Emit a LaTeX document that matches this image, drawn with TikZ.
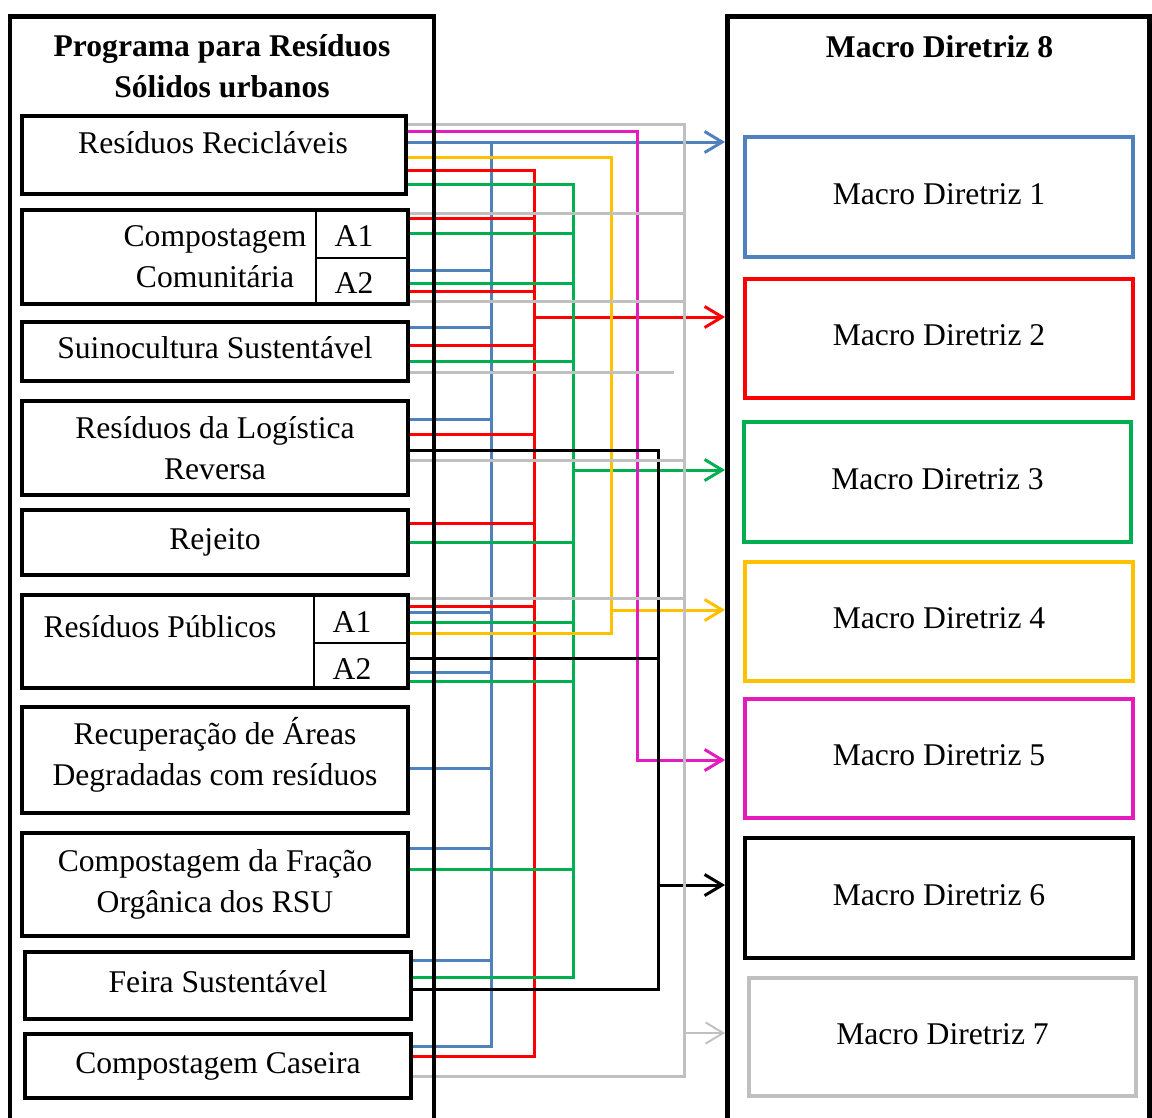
\documentclass[tikz,border=0pt]{standalone}
\usepackage{fontspec}
\setmainfont{Liberation Serif}
\usetikzlibrary{arrows.meta, fit, backgrounds}

\definecolor{mdblue}{RGB}{79,129,189}
\definecolor{mdred}{RGB}{255,0,0}
\definecolor{mdgreen}{RGB}{0,176,80}
\definecolor{mdyellow}{RGB}{255,192,0}
\definecolor{mdpink}{RGB}{228,28,188}
\definecolor{mdgray}{RGB}{192,192,192}

\newcommand{\mdsize}{\fontsize{18}{23.5}\selectfont}

\tikzset{
  outerframe/.style={draw, line width=2.8pt, inner sep=0pt},
  srcbox/.style={draw, line width=2.5pt, inner sep=0pt},
  mdbox/.style={draw=#1, line width=2.3pt, inner sep=0pt},
  txt/.style={inner sep=0pt, align=center},
  oneline/.style={txt, text height=12.6pt, text depth=4.5pt},
  lbl/.style={anchor=base, inner sep=0pt, align=center},
  ttl/.style={inner sep=0pt, align=center, font=\mdsize\bfseries},
  wire/.style={draw=#1, line width=1.7pt},
  arrowhd/.style={-{Straight Barb[length=10pt,width=12pt]}},
  cell/.style={line width=0.6pt},
}

\begin{document}
\begin{tikzpicture}[x=0.02cm, y=-0.02cm, font=\mdsize]
\useasboundingbox (0,0) rectangle (1152,1117);

% Outer frames (open at the bottom)
\begin{scope}
\clip (0,0) rectangle (1152,1117);
\node[outerframe, fit={(10,16.5) (434,1140)}] (prog) {};
\node[outerframe, fit={(727.5,16.5) (1149.5,1140)}] (md8) {};
\end{scope}
\node[ttl] (prog-t) at (222,66) {Programa para Resíduos\\Sólidos urbanos};
\node[ttl, anchor=base] (md8-t) at (939.5,57) {Macro Diretriz 8};

% Programme boxes
\node[srcbox, fit={(22,116) (406,194)}] (recic) {};
\node[lbl] (recic-t) at (213,153) {Resíduos Recicláveis};
\node[srcbox, fit={(22,210) (408,304)}] (comcom) {};
\node[txt] (comcom-t) at (comcom.center) {Compostagem\\Comunitária};
\draw[cell] (316,210) -- (316,304) (316,258) -- (408,258);
\node[lbl] (comcom-a1) at (354,246) {A1};
\node[lbl] (comcom-a2) at (354,293) {A2};
\node[srcbox, fit={(22,322) (408,381)}] (suino) {};
\node[oneline] (suino-t) at (suino.center) {Suinocultura Sustentável};
\node[srcbox, fit={(22,401) (408,495)}] (logist) {};
\node[txt] (logist-t) at (logist.center) {Resíduos da Logística\\Reversa};
\node[srcbox, fit={(22,510) (408,575)}] (rejeito) {};
\node[oneline] (rejeito-t) at (rejeito.center) {Rejeito};
\node[srcbox, fit={(22,595) (408,688)}] (public) {};
\node[lbl] (public-t) at (160,637) {Resíduos Públicos};
\draw[cell] (314,595) -- (314,688) (314,643) -- (408,643);
\node[lbl] (public-a1) at (352,632) {A1};
\node[lbl] (public-a2) at (352,679) {A2};
\node[srcbox, fit={(22,707) (408,813)}] (recup) {};
\node[txt, yshift=3pt] (recup-t) at (recup.center) {Recuperação de Áreas\\Degradadas com resíduos};
\node[srcbox, fit={(22,833) (408,936)}] (fracao) {};
\node[txt] (fracao-t) at (fracao.center) {Compostagem da Fração\\Orgânica dos RSU};
\node[srcbox, fit={(25,952) (411,1019)}] (feira) {};
\node[oneline] (feira-t) at (feira.center) {Feira Sustentável};
\node[srcbox, fit={(25,1034) (411,1098)}] (caseira) {};
\node[oneline] (caseira-t) at (caseira.center) {Compostagem Caseira};

% Macro directives
\node[mdbox=mdblue, fit={(745,137) (1133,257)}] (md1) {};
\node[mdbox=mdred, fit={(745,279) (1133,398)}] (md2) {};
\node[mdbox=mdgreen, fit={(744,422) (1131,542)}] (md3) {};
\node[mdbox=mdyellow, fit={(745,562) (1133,681)}] (md4) {};
\node[mdbox=mdpink, fit={(745,699) (1133,818)}] (md5) {};
\node[mdbox=black, fit={(745,838) (1133,958)}] (md6) {};
\node[mdbox=mdgray, fit={(749,978) (1136,1096)}] (md7) {};
\node[oneline] (md1-t) at (md1.center) {Macro Diretriz 1};
\node[oneline] (md2-t) at (md2.center) {Macro Diretriz 2};
\node[oneline] (md3-t) at (md3.center) {Macro Diretriz 3};
\node[oneline] (md4-t) at (md4.center) {Macro Diretriz 4};
\node[oneline] (md5-t) at (md5.center) {Macro Diretriz 5};
\node[oneline] (md6-t) at (md6.center) {Macro Diretriz 6};
\node[oneline] (md7-t) at (md7.center) {Macro Diretriz 7};

% Bus columns
\coordinate (xB) at (491,0);
\coordinate (xR) at (534,0);
\coordinate (xG) at (573,0);
\coordinate (xY) at (611,0);
\coordinate (xM) at (637,0);
\coordinate (xK) at (658,0);
\coordinate (xS) at (684,0);
\coordinate (suinoEnd) at (674,372);

\begin{pgfonlayer}{background}
% blue -> Macro Diretriz 1
\draw[wire=mdblue, arrowhd] (recic.east |- 0,142) -- (md8.west |- 0,142);
\draw[wire=mdblue] (xB |- 0,142) -- (xB |- 0,1046) -- (caseira.east |- 0,1046)
  (comcom.east |- 0,270) -- (xB |- 0,270)
  (suino.east |- 0,327) -- (xB |- 0,327)
  (logist.east |- 0,419) -- (xB |- 0,419)
  (public.east |- 0,612) -- (xB |- 0,612)
  (public.east |- 0,672) -- (xB |- 0,672)
  (recup.east |- 0,768) -- (xB |- 0,768)
  (fracao.east |- 0,848) -- (xB |- 0,848)
  (feira.east |- 0,960) -- (xB |- 0,960);

% red -> Macro Diretriz 2
\draw[wire=mdred] (recic.east |- 0,170) -- (xR |- 0,170) -- (xR |- 0,1056) -- (caseira.east |- 0,1056)
  (comcom.east |- 0,218) -- (xR |- 0,218)
  (comcom.east |- 0,291) -- (xR |- 0,291)
  (suino.east |- 0,345) -- (xR |- 0,345)
  (logist.east |- 0,434) -- (xR |- 0,434)
  (rejeito.east |- 0,523) -- (xR |- 0,523)
  (public.east |- 0,606) -- (xR |- 0,606);
\draw[wire=mdred, arrowhd] (xR |- 0,317) -- (md8.west |- 0,317);

% green -> Macro Diretriz 3
\draw[wire=mdgreen] (recic.east |- 0,184) -- (xG |- 0,184) -- (xG |- 0,977) -- (feira.east |- 0,977)
  (comcom.east |- 0,233) -- (xG |- 0,233)
  (comcom.east |- 0,283) -- (xG |- 0,283)
  (suino.east |- 0,361) -- (xG |- 0,361)
  (rejeito.east |- 0,542) -- (xG |- 0,542)
  (public.east |- 0,622) -- (xG |- 0,622)
  (public.east |- 0,681) -- (xG |- 0,681)
  (fracao.east |- 0,869) -- (xG |- 0,869);
\draw[wire=mdgreen, arrowhd] (xG |- 0,470) -- (md8.west |- 0,470);

% yellow -> Macro Diretriz 4
\draw[wire=mdyellow] (recic.east |- 0,157) -- (xY |- 0,157) -- (xY |- 0,633) -- (public.east |- 0,633);
\draw[wire=mdyellow, arrowhd] (xY |- 0,610) -- (md8.west |- 0,610);

% pink -> Macro Diretriz 5
\draw[wire=mdpink, arrowhd] (recic.east |- 0,131) -- (xM |- 0,131) -- (xM |- 0,760) -- (md8.west |- 0,760);

% black -> Macro Diretriz 6
\draw[wire=black] (logist.east |- 0,450) -- (xK |- 0,450) -- (xK |- 0,989) -- (feira.east |- 0,989)
  (public.east |- 0,658) -- (xK |- 0,658);
\draw[wire=black, arrowhd] (xK |- 0,885) -- (md8.west |- 0,885);

% gray -> Macro Diretriz 7
\draw[wire=mdgray] (recic.east |- 0,124) -- (xS |- 0,124) -- (xS |- 0,1076) -- (caseira.east |- 0,1076)
  (comcom.east |- 0,213) -- (xS |- 0,213)
  (comcom.east |- 0,301) -- (xS |- 0,301)
  (suino.east |- 0,372) -- (suinoEnd)
  (logist.east |- 0,460) -- (xS |- 0,460)
  (public.east |- 0,598) -- (xS |- 0,598);
\draw[wire=mdgray, line width=1.1pt, arrowhd] (xS |- 0,1033) -- (md8.west |- 0,1033);
\end{pgfonlayer}

\end{tikzpicture}
\end{document}
